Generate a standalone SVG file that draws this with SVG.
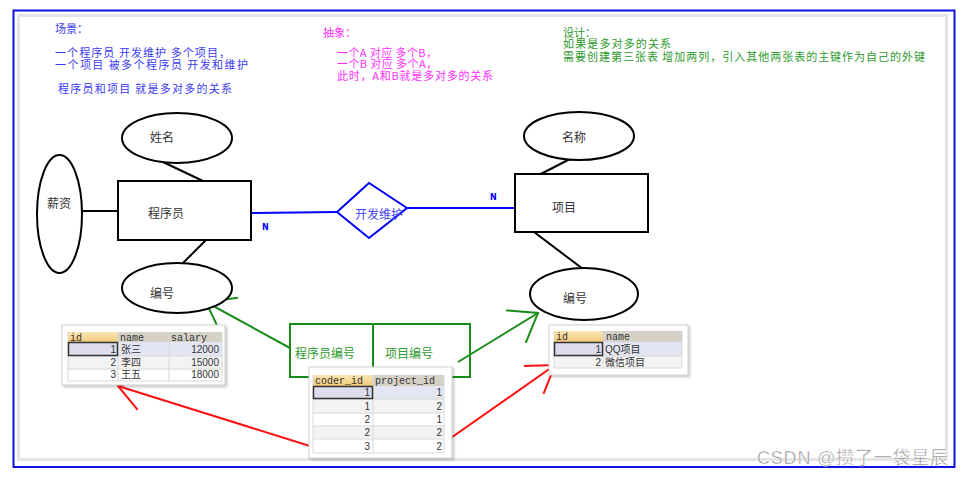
<svg xmlns="http://www.w3.org/2000/svg" width="964" height="477" viewBox="0 0 964 477">
<style>
.t{font-family:"Noto Sans CJK SC","Noto Sans",sans-serif;font-size:12px}
.n{font-size:11px}
.blue{fill:#3b3bf2}
.mag{fill:#ff30ff}
.grn{fill:#2c9a2c}
.shape{fill:#fff;stroke:#000;stroke-width:2}
.lbl{fill:#333}
.ln{stroke:#000;stroke-width:2;fill:none}
.bl{stroke:#0000ff;stroke-width:2;fill:none}
.g{stroke:#1a8c1a;stroke-width:2;fill:none}
.r{stroke:#ff1010;stroke-width:2;fill:none}
.nlab{font-family:"DejaVu Sans",sans-serif;font-size:8px;font-weight:bold;fill:#0000ff}
.hd{font-family:"Liberation Mono",monospace;font-size:10px;fill:#333}
.cell{font-family:"Liberation Sans","Noto Sans CJK SC",sans-serif;font-size:10px;fill:#333}
.grid{stroke:#d8d8d8;stroke-width:1}
.frame{fill:#fff;stroke:#cfcfcf;stroke-width:1}
.hgray{fill:#d5d1c6}
.hsel{fill:url(#og)}
</style>
<defs>
<linearGradient id="og" x1="0" y1="0" x2="0" y2="1">
<stop offset="0" stop-color="#fbe6b4"/>
<stop offset="1" stop-color="#f0c978"/>
</linearGradient>
<marker id="ag" markerUnits="userSpaceOnUse" markerWidth="32" markerHeight="42" refX="29" refY="21" orient="auto" viewBox="0 0 32 42">
<path d="M3,2 L29,21 L3,40" fill="none" stroke="#1a8c1a" stroke-width="2"/>
</marker>
<marker id="ar" markerUnits="userSpaceOnUse" markerWidth="32" markerHeight="42" refX="29" refY="21" orient="auto" viewBox="0 0 32 42">
<path d="M3,4 L29,21 L3,38" fill="none" stroke="#ff1010" stroke-width="2"/>
</marker>
<filter id="sh" x="-10%" y="-10%" width="130%" height="130%">
<feDropShadow dx="1.5" dy="1.5" stdDeviation="1.2" flood-color="#000" flood-opacity="0.25"/>
</filter>
</defs>
<rect width="964" height="477" fill="#fff"/>
<rect x="13.5" y="10.5" width="941" height="456.5" fill="none" stroke="#1010e8" stroke-width="2"/>
<rect x="18.5" y="15.5" width="928" height="444" fill="none" stroke="#e4e4e4" stroke-width="3"/>

<g id="notes-scene" class="t n blue">
<text x="55" y="33">场景：</text>
<text x="55" y="57" textLength="175">一个程序员 开发维护 多个项目，</text>
<text x="55" y="69" textLength="193">一个项目 被多个程序员 开发和维护</text>
<text x="58" y="93" textLength="174">程序员和项目 就是多对多的关系</text>
</g>
<g id="notes-abstract" class="t n mag">
<text x="323" y="37">抽象：</text>
<text x="337" y="57" textLength="100">一个A 对应 多个B，</text>
<text x="337" y="68" textLength="100">一个B 对应 多个A，</text>
<text x="337" y="80" textLength="156">此时，A和B就是多对多的关系</text>
</g>
<g id="notes-design" class="t n grn">
<text x="563" y="37">设计：</text>
<text x="563" y="48" textLength="108">如果是多对多的关系</text>
<text x="563" y="61" textLength="362">需要创建第三张表 增加两列，引入其他两张表的主键作为自己的外键</text>
</g>

<g id="connectors">
<line class="ln" x1="82" y1="211" x2="120" y2="211"/>
<line class="ln" x1="163" y1="162" x2="203" y2="181"/>
<line class="ln" x1="206" y1="240" x2="182" y2="264"/>
<line class="ln" x1="570" y1="159" x2="533" y2="178"/>
<line class="ln" x1="534" y1="232" x2="583" y2="269"/>
<line class="bl" x1="251" y1="213" x2="337" y2="212"/>
<line class="bl" x1="407" y1="208" x2="519" y2="208"/>
<text class="nlab" x="262" y="230">N</text>
<text class="nlab" x="490" y="200">N</text>
<line class="g" x1="290" y1="348" x2="206" y2="302" marker-end="url(#ag)"/>
<line class="g" x1="458" y1="362" x2="538" y2="313" marker-end="url(#ag)"/>
<line class="r" x1="313" y1="447" x2="118" y2="386" marker-end="url(#ar)"/>
<line class="r" x1="438" y1="447" x2="555" y2="365" marker-end="url(#ar)"/>
</g>

<g id="attr-name">
<ellipse class="shape" cx="177" cy="138" rx="55" ry="25"/>
<text class="t lbl" x="150" y="142">姓名</text>
</g>
<g id="attr-salary">
<ellipse class="shape" cx="59.5" cy="214" rx="22.5" ry="59"/>
<text class="t lbl" x="47" y="208">薪资</text>
</g>
<g id="entity-coder">
<rect class="shape" x="118" y="181" width="133" height="59"/>
<text class="t lbl" x="148" y="218">程序员</text>
</g>
<g id="attr-coder-id">
<ellipse class="shape" cx="177" cy="288" rx="55" ry="25"/>
<text class="t lbl" x="150" y="298">编号</text>
</g>
<g id="relation-develop">
<polygon points="337,212 369,183 407,208 369,238" fill="#fff" stroke="#0000ff" stroke-width="2"/>
<text class="t" fill="#4646f5" x="355" y="219">开发维护</text>
</g>
<g id="attr-title">
<ellipse class="shape" cx="579" cy="136" rx="55" ry="24"/>
<text class="t lbl" x="562" y="142">名称</text>
</g>
<g id="entity-project">
<rect class="shape" x="515" y="174" width="133" height="58"/>
<text class="t lbl" x="552" y="212">项目</text>
</g>
<g id="attr-project-id">
<ellipse class="shape" cx="584" cy="294" rx="54" ry="26"/>
<text class="t lbl" x="563" y="303">编号</text>
</g>

<g id="fk-box">
<rect x="290" y="324" width="180" height="53" fill="none" stroke="#1a8c1a" stroke-width="2"/>
<line x1="373" y1="324" x2="373" y2="377" stroke="#1a8c1a" stroke-width="2"/>
<text class="t grn" x="295" y="358">程序员编号</text>
<text class="t grn" x="385" y="358">项目编号</text>
</g>

<g id="table-coder">
<rect class="frame" x="62" y="325" width="163" height="60" filter="url(#sh)"/>
<rect class="hsel" x="68" y="332" width="50" height="10"/>
<rect class="hgray" x="118" y="332" width="104" height="10"/>
<rect x="68" y="342" width="154" height="14" fill="#e3e6f2"/>
<rect x="68" y="356" width="154" height="13" fill="#f3f3f3"/>
<rect x="68" y="369" width="154" height="12" fill="#fff"/>
<g class="grid">
<line x1="68" y1="356" x2="222" y2="356"/>
<line x1="68" y1="369" x2="222" y2="369"/>
<line x1="68" y1="381" x2="222" y2="381"/>
<line x1="118" y1="332" x2="118" y2="381"/>
<line x1="169" y1="332" x2="169" y2="381"/>
<line x1="222" y1="332" x2="222" y2="381"/>
<line x1="68" y1="332" x2="68" y2="381"/>
</g>
<rect x="68.5" y="342.5" width="49" height="13" fill="#dcdcec" stroke="#333" stroke-width="1.5"/>
<text class="hd" x="70" y="340.5">id</text>
<text class="hd" x="120" y="340.5">name</text>
<text class="hd" x="171" y="340.5">salary</text>
<text class="cell" x="116" y="353" text-anchor="end">1</text>
<text class="cell" x="121" y="353">张三</text>
<text class="cell" x="219" y="353" text-anchor="end">12000</text>
<text class="cell" x="116" y="366" text-anchor="end">2</text>
<text class="cell" x="121" y="366">李四</text>
<text class="cell" x="219" y="366" text-anchor="end">15000</text>
<text class="cell" x="116" y="378" text-anchor="end">3</text>
<text class="cell" x="121" y="378">王五</text>
<text class="cell" x="219" y="378" text-anchor="end">18000</text>
</g>

<g id="table-coder-project">
<rect class="frame" x="309" y="367" width="143" height="91" filter="url(#sh)"/>
<rect class="hsel" x="313" y="375" width="60" height="11"/>
<rect class="hgray" x="373" y="375" width="71" height="11"/>
<rect x="313" y="386" width="131" height="13" fill="#e3e6f2"/>
<rect x="313" y="399" width="131" height="14" fill="#f3f3f3"/>
<rect x="313" y="426" width="131" height="13" fill="#f3f3f3"/>
<g class="grid">
<line x1="313" y1="399" x2="444" y2="399"/>
<line x1="313" y1="413" x2="444" y2="413"/>
<line x1="313" y1="426" x2="444" y2="426"/>
<line x1="313" y1="439" x2="444" y2="439"/>
<line x1="313" y1="453" x2="444" y2="453"/>
<line x1="313" y1="375" x2="313" y2="453"/>
<line x1="373" y1="375" x2="373" y2="453"/>
<line x1="444" y1="375" x2="444" y2="453"/>
</g>
<rect x="313.5" y="386.5" width="59" height="12" fill="#dcdcec" stroke="#333" stroke-width="1.5"/>
<text class="hd" x="315" y="384">coder_id</text>
<text class="hd" x="375" y="384">project_id</text>
<text class="cell" x="370" y="396" text-anchor="end">1</text>
<text class="cell" x="442" y="396" text-anchor="end">1</text>
<text class="cell" x="370" y="410" text-anchor="end">1</text>
<text class="cell" x="442" y="410" text-anchor="end">2</text>
<text class="cell" x="370" y="423" text-anchor="end">2</text>
<text class="cell" x="442" y="423" text-anchor="end">1</text>
<text class="cell" x="370" y="436" text-anchor="end">2</text>
<text class="cell" x="442" y="436" text-anchor="end">2</text>
<text class="cell" x="370" y="450" text-anchor="end">3</text>
<text class="cell" x="442" y="450" text-anchor="end">2</text>
</g>

<g id="table-project">
<rect class="frame" x="549" y="325" width="139" height="50" filter="url(#sh)"/>
<rect class="hsel" x="554" y="331" width="49" height="11"/>
<rect class="hgray" x="603" y="331" width="79" height="11"/>
<rect x="554" y="342" width="128" height="14" fill="#e3e6f2"/>
<rect x="554" y="356" width="128" height="12" fill="#f3f3f3"/>
<g class="grid">
<line x1="554" y1="356" x2="682" y2="356"/>
<line x1="554" y1="368" x2="682" y2="368"/>
<line x1="554" y1="331" x2="554" y2="368"/>
<line x1="603" y1="331" x2="603" y2="368"/>
<line x1="682" y1="331" x2="682" y2="368"/>
</g>
<rect x="554.5" y="342.5" width="48" height="13" fill="#dcdcec" stroke="#333" stroke-width="1.5"/>
<text class="hd" x="556" y="340">id</text>
<text class="hd" x="606" y="340">name</text>
<text class="cell" x="601" y="353" text-anchor="end">1</text>
<text class="cell" x="605" y="353">QQ项目</text>
<text class="cell" x="601" y="366" text-anchor="end">2</text>
<text class="cell" x="605" y="366">微信项目</text>
</g>

<text x="757" y="464" textLength="191" font-family="Liberation Sans,'Noto Sans CJK SC',sans-serif" font-size="18" fill="#8a8a8a" stroke="#fff" stroke-width="0.5">CSDN @攒了一袋星辰</text>
</svg>
